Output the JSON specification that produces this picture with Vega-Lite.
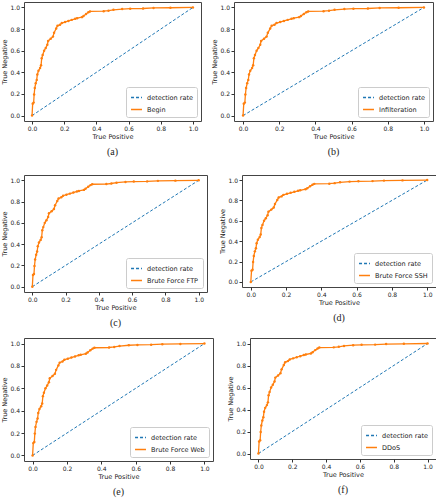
{
  "$schema": "https://vega.github.io/schema/vega-lite/v6.json",
  "padding": {"left": 1, "top": 1, "right": 2, "bottom": 0},
  "background": "white",
  "spacing": 16,
  "datasets": {
    "diag": [{"fpr": 0, "tpr": 0}, {"fpr": 1, "tpr": 1}],
    "roc": [
      {"fpr": 0.0, "tpr": 0.0},
      {"fpr": 0.004, "tpr": 0.11},
      {"fpr": 0.01, "tpr": 0.12},
      {"fpr": 0.013, "tpr": 0.195},
      {"fpr": 0.017, "tpr": 0.255},
      {"fpr": 0.023, "tpr": 0.3},
      {"fpr": 0.029, "tpr": 0.33},
      {"fpr": 0.033, "tpr": 0.38},
      {"fpr": 0.04, "tpr": 0.415},
      {"fpr": 0.05, "tpr": 0.44},
      {"fpr": 0.056, "tpr": 0.465},
      {"fpr": 0.06, "tpr": 0.53},
      {"fpr": 0.066, "tpr": 0.56},
      {"fpr": 0.075, "tpr": 0.6},
      {"fpr": 0.085, "tpr": 0.625},
      {"fpr": 0.095, "tpr": 0.655},
      {"fpr": 0.1, "tpr": 0.69},
      {"fpr": 0.116, "tpr": 0.71},
      {"fpr": 0.13, "tpr": 0.73},
      {"fpr": 0.137, "tpr": 0.765},
      {"fpr": 0.15, "tpr": 0.805},
      {"fpr": 0.158, "tpr": 0.83},
      {"fpr": 0.174, "tpr": 0.84},
      {"fpr": 0.185, "tpr": 0.855},
      {"fpr": 0.205, "tpr": 0.865},
      {"fpr": 0.226, "tpr": 0.875},
      {"fpr": 0.247, "tpr": 0.885},
      {"fpr": 0.268, "tpr": 0.895},
      {"fpr": 0.28, "tpr": 0.9},
      {"fpr": 0.31, "tpr": 0.91},
      {"fpr": 0.32, "tpr": 0.92},
      {"fpr": 0.336, "tpr": 0.94},
      {"fpr": 0.35, "tpr": 0.955},
      {"fpr": 0.36, "tpr": 0.963},
      {"fpr": 0.445, "tpr": 0.965},
      {"fpr": 0.475, "tpr": 0.97},
      {"fpr": 0.506, "tpr": 0.978},
      {"fpr": 0.56, "tpr": 0.985},
      {"fpr": 0.61, "tpr": 0.988},
      {"fpr": 0.69, "tpr": 0.99},
      {"fpr": 0.755, "tpr": 0.995},
      {"fpr": 0.86, "tpr": 0.997},
      {"fpr": 1.0, "tpr": 1.0}
    ]
  },
  "resolve": {"scale": {"color": "independent"}, "legend": {"color": "independent"}},
  "vconcat": [
    {
      "spacing": 9,
      "resolve": {"scale": {"color": "independent"}, "legend": {"color": "independent"}},
      "hconcat": [
        {
          "width": 177, "height": 119,
          "title": {"text": "(a)"},
          "encoding": {
            "x": {"field": "fpr", "type": "quantitative", "title": "True Positive", "scale": {"domain": [-0.05, 1.05], "nice": false, "zero": false}, "axis": {"values": [0, 0.2, 0.4, 0.6, 0.8, 1], "format": ".1f"}},
            "y": {"field": "tpr", "type": "quantitative", "title": "True Negative", "scale": {"domain": [-0.05, 1.05], "nice": false, "zero": false}, "axis": {"values": [0, 0.2, 0.4, 0.6, 0.8, 1], "format": ".1f"}}
          },
          "layer": [
            {"data": {"name": "diag"}, "mark": {"type": "line", "strokeWidth": 1, "strokeDash": [3, 2]}, "encoding": {
              "color": {"datum": "detection rate", "scale": {"domain": ["detection rate", "Begin"], "range": ["#1f77b4", "#ff7f0e"]}, "legend": {"title": null, "encode": {"symbols": {"update": {"strokeDash": {"signal": "datum.value === 'detection rate' ? [3, 2] : [1, 0]"}}}}}}}},
            {"data": {"name": "roc"}, "mark": {"type": "line", "strokeWidth": 1.3, "point": {"filled": true, "size": 6}}, "encoding": {
              "color": {"datum": "Begin"}}}
          ]
        },
        {
          "width": 199, "height": 119,
          "title": {"text": "(b)"},
          "encoding": {
            "x": {"field": "fpr", "type": "quantitative", "title": "True Positive", "scale": {"domain": [-0.05, 1.05], "nice": false, "zero": false}, "axis": {"values": [0, 0.2, 0.4, 0.6, 0.8, 1], "format": ".1f"}},
            "y": {"field": "tpr", "type": "quantitative", "title": "True Negative", "scale": {"domain": [-0.05, 1.05], "nice": false, "zero": false}, "axis": {"values": [0, 0.2, 0.4, 0.6, 0.8, 1], "format": ".1f"}}
          },
          "layer": [
            {"data": {"name": "diag"}, "mark": {"type": "line", "strokeWidth": 1, "strokeDash": [3, 2]}, "encoding": {
              "color": {"datum": "detection rate", "scale": {"domain": ["detection rate", "Infilteration"], "range": ["#1f77b4", "#ff7f0e"]}, "legend": {"title": null, "encode": {"symbols": {"update": {"strokeDash": {"signal": "datum.value === 'detection rate' ? [3, 2] : [1, 0]"}}}}}}}},
            {"data": {"name": "roc"}, "mark": {"type": "line", "strokeWidth": 1.3, "point": {"filled": true, "size": 6}}, "encoding": {
              "color": {"datum": "Infilteration"}}}
          ]
        }
      ]
    },
    {
      "spacing": 8,
      "resolve": {"scale": {"color": "independent"}, "legend": {"color": "independent"}},
      "vconcat": [
        {
          "spacing": 11,
          "resolve": {"scale": {"color": "independent"}, "legend": {"color": "independent"}},
          "hconcat": [
            {
              "width": 183, "height": 117,
              "title": {"text": "(c)"},
              "encoding": {
                "x": {"field": "fpr", "type": "quantitative", "title": "True Positive", "scale": {"domain": [-0.05, 1.05], "nice": false, "zero": false}, "axis": {"values": [0, 0.2, 0.4, 0.6, 0.8, 1], "format": ".1f"}},
                "y": {"field": "tpr", "type": "quantitative", "title": "True Negative", "scale": {"domain": [-0.05, 1.05], "nice": false, "zero": false}, "axis": {"values": [0, 0.2, 0.4, 0.6, 0.8, 1], "format": ".1f"}}
              },
              "layer": [
                {"data": {"name": "diag"}, "mark": {"type": "line", "strokeWidth": 1, "strokeDash": [3, 2]}, "encoding": {
                  "color": {"datum": "detection rate", "scale": {"domain": ["detection rate", "Brute Force FTP"], "range": ["#1f77b4", "#ff7f0e"]}, "legend": {"title": null, "encode": {"symbols": {"update": {"strokeDash": {"signal": "datum.value === 'detection rate' ? [3, 2] : [1, 0]"}}}}}}}},
                {"data": {"name": "roc"}, "mark": {"type": "line", "strokeWidth": 1.3, "point": {"filled": true, "size": 6}}, "encoding": {
                  "color": {"datum": "Brute Force FTP"}}}
              ]
            },
            {
              "width": 194, "height": 112,
              "title": {"text": "(d)"},
              "encoding": {
                "x": {"field": "fpr", "type": "quantitative", "title": "True Positive", "scale": {"domain": [-0.05, 1.05], "nice": false, "zero": false}, "axis": {"values": [0, 0.2, 0.4, 0.6, 0.8, 1], "format": ".1f"}},
                "y": {"field": "tpr", "type": "quantitative", "title": "True Negative", "scale": {"domain": [-0.05, 1.05], "nice": false, "zero": false}, "axis": {"values": [0, 0.2, 0.4, 0.6, 0.8, 1], "format": ".1f"}}
              },
              "layer": [
                {"data": {"name": "diag"}, "mark": {"type": "line", "strokeWidth": 1, "strokeDash": [3, 2]}, "encoding": {
                  "color": {"datum": "detection rate", "scale": {"domain": ["detection rate", "Brute Force SSH"], "range": ["#1f77b4", "#ff7f0e"]}, "legend": {"title": null, "encode": {"symbols": {"update": {"strokeDash": {"signal": "datum.value === 'detection rate' ? [3, 2] : [1, 0]"}}}}}}}},
                {"data": {"name": "roc"}, "mark": {"type": "line", "strokeWidth": 1.3, "point": {"filled": true, "size": 6}}, "encoding": {
                  "color": {"datum": "Brute Force SSH"}}}
              ]
            }
          ]
        },
        {
          "spacing": 13,
          "resolve": {"scale": {"color": "independent"}, "legend": {"color": "independent"}},
          "hconcat": [
            {
              "width": 189, "height": 123,
              "title": {"text": "(e)"},
              "encoding": {
                "x": {"field": "fpr", "type": "quantitative", "title": "True Positive", "scale": {"domain": [-0.05, 1.05], "nice": false, "zero": false}, "axis": {"values": [0, 0.2, 0.4, 0.6, 0.8, 1], "format": ".1f"}},
                "y": {"field": "tpr", "type": "quantitative", "title": "True Negative", "scale": {"domain": [-0.05, 1.05], "nice": false, "zero": false}, "axis": {"values": [0, 0.2, 0.4, 0.6, 0.8, 1], "format": ".1f"}}
              },
              "layer": [
                {"data": {"name": "diag"}, "mark": {"type": "line", "strokeWidth": 1, "strokeDash": [3, 2]}, "encoding": {
                  "color": {"datum": "detection rate", "scale": {"domain": ["detection rate", "Brute Force Web"], "range": ["#1f77b4", "#ff7f0e"]}, "legend": {"title": null, "encode": {"symbols": {"update": {"strokeDash": {"signal": "datum.value === 'detection rate' ? [3, 2] : [1, 0]"}}}}}}}},
                {"data": {"name": "roc"}, "mark": {"type": "line", "strokeWidth": 1.3, "point": {"filled": true, "size": 6}}, "encoding": {
                  "color": {"datum": "Brute Force Web"}}}
              ]
            },
            {
              "width": 186, "height": 121,
              "title": {"text": "(f)"},
              "encoding": {
                "x": {"field": "fpr", "type": "quantitative", "title": "True Positive", "scale": {"domain": [-0.05, 1.05], "nice": false, "zero": false}, "axis": {"values": [0, 0.2, 0.4, 0.6, 0.8, 1], "format": ".1f"}},
                "y": {"field": "tpr", "type": "quantitative", "title": "True Negative", "scale": {"domain": [-0.05, 1.05], "nice": false, "zero": false}, "axis": {"values": [0, 0.2, 0.4, 0.6, 0.8, 1], "format": ".1f"}}
              },
              "layer": [
                {"data": {"name": "diag"}, "mark": {"type": "line", "strokeWidth": 1, "strokeDash": [3, 2]}, "encoding": {
                  "color": {"datum": "detection rate", "scale": {"domain": ["detection rate", "DDoS"], "range": ["#1f77b4", "#ff7f0e"]}, "legend": {"title": null, "encode": {"symbols": {"update": {"strokeDash": {"signal": "datum.value === 'detection rate' ? [3, 2] : [1, 0]"}}}}}}}},
                {"data": {"name": "roc"}, "mark": {"type": "line", "strokeWidth": 1.3, "point": {"filled": true, "size": 6}}, "encoding": {
                  "color": {"datum": "DDoS"}}}
              ]
            }
          ]
        }
      ]
    }
  ],
  "config": {
    "font": "DejaVu Sans",
    "view": {"stroke": "#444", "strokeWidth": 1},
    "axis": {
      "grid": false, "domain": false, "ticks": true, "tickSize": 3, "tickColor": "#333",
      "labelFontSize": 6, "labelColor": "#222", "labelPadding": 1.5, "labelOverlap": false,
      "titleFontSize": 6.5, "titleFontWeight": "normal", "titleColor": "#222", "titlePadding": 2,
      "minExtent": 0
    },
    "legend": {
      "orient": "bottom-right", "offset": 4, "symbolType": "stroke", "symbolSize": 120, "symbolStrokeWidth": 1.6,
      "labelFontSize": 6.5, "labelColor": "#222", "rowPadding": 2, "padding": 4,
      "strokeColor": "#cccccc", "fillColor": "white", "cornerRadius": 2
    },
    "title": {
      "orient": "bottom", "font": "Liberation Serif", "fontSize": 10, "fontWeight": "normal", "color": "#222", "offset": 7
    }
  }
}
